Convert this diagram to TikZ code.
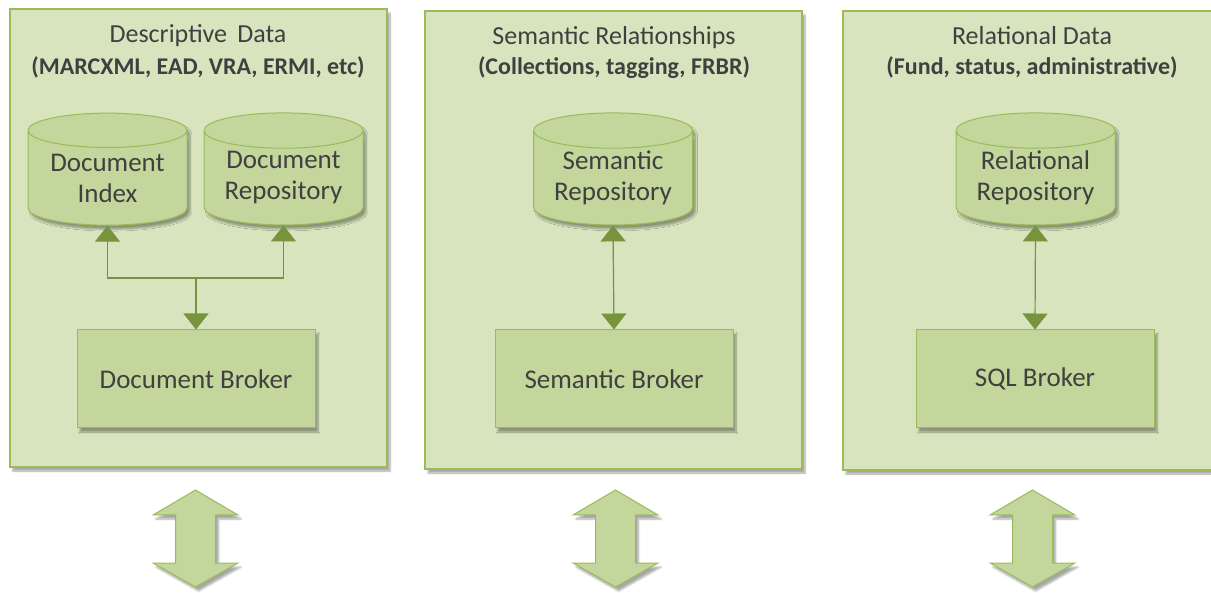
\documentclass[tikz,border=0pt]{standalone}
\usepackage{fontspec}
\setmainfont{Carlito}
\usetikzlibrary{shapes.geometric,arrows.meta,shadows.blur,positioning}
\definecolor{panelfill}{HTML}{D7E4BD}
\definecolor{boxfill}{HTML}{C3D69B}
\definecolor{edge}{HTML}{9BBB59}
\definecolor{conncol}{HTML}{77933C}
\definecolor{txt}{HTML}{404040}
\tikzset{
  panel/.style={draw=edge, line width=1.3pt, fill=panelfill, blur shadow={shadow xshift=3pt, shadow yshift=-4pt, shadow blur steps=6, shadow opacity=35}},
  db/.style={cylinder, shape border rotate=90, aspect=0.3, draw=edge, line width=1pt, fill=boxfill,
    minimum width=159pt, minimum height=112pt, inner sep=0pt, text=txt, font=\fontsize{27}{31}\selectfont, align=center,
    blur shadow={shadow xshift=3pt, shadow yshift=-4pt, shadow blur steps=6, shadow opacity=35}},
  broker/.style={rectangle, draw=edge, line width=1pt, fill=boxfill, minimum width=238pt, minimum height=98pt,
    inner sep=0pt, text=txt, font=\fontsize{27}{31}\selectfont,
    blur shadow={shadow xshift=3pt, shadow yshift=-4pt, shadow blur steps=6, shadow opacity=35}},
  ttl/.style={anchor=base, text=txt, font=\fontsize{26}{30}\selectfont, inner sep=0pt},
  sub/.style={anchor=base, text=txt, font=\bfseries\fontsize{24}{28}\selectfont, inner sep=0pt},
  conn/.style={draw=conncol, line width=1.2pt},
  tip/.style={-{Triangle[width=25pt,length=16pt]}},
  bigarrow/.style={draw=edge, line width=1pt, fill=boxfill, blur shadow={shadow xshift=3pt, shadow yshift=-4pt, shadow blur steps=6, shadow opacity=35}},
}
\newcommand{\dblarrow}[1]{%
  \path[bigarrow] (#1,490) -- (#1+42.5,515) -- (#1+20,515) -- (#1+20,563) -- (#1+42.5,563) -- (#1,587)
    -- (#1-42.5,563) -- (#1-20,563) -- (#1-20,515) -- (#1-42.5,515) -- cycle;}
\begin{document}
\begin{tikzpicture}[x=1pt,y=-1pt]
\useasboundingbox (0,0) rectangle (1211,593);
% panels
\path[panel] (10,9) rectangle (387,467);
\path[panel] (425,11) rectangle (802,469);
\path[panel] (843,11) rectangle (1222,470);
% titles
\node[ttl] (t1) at (198,43) {Descriptive\, Data};
\node[sub] (s1) at (198,75) {(MARCXML, EAD, VRA, ERMI, etc)};
\node[ttl] (t2) at (614,45) {Semantic Relationships};
\node[sub] (s2) at (614,75) {(Collections, tagging, FRBR)};
\node[ttl] (t3) at (1032,45) {Relational Data};
\node[sub] (s3) at (1032,75) {(Fund, status, administrative)};
% cylinders
\node[db] (di) at (107.5,178) {Document\\Index};
\node[db] (dr) at (283.5,178) {Document\\Repository};
\node[db] (sr) at (613,178) {Semantic\\Repository};
\node[db] (rr) at (1035.5,178) {Relational\\Repository};
% brokers
\node[broker] (b1) at (196,379) {Document Broker};
\node[broker] (b2) at (614,379) {Semantic Broker};
\node[broker] (b3) at (1035,379) {SQL Broker};
% connectors
\coordinate (j1) at (b1.north |- 0,278);
\draw[conn,tip] (j1) -- (b1.north);
\draw[conn,tip] (j1) -| (di.south);
\draw[conn,tip] (j1) -| (dr.south);
\draw[conn,{Triangle[width=25pt,length=16pt]}-{Triangle[width=25pt,length=16pt]}] (sr.south) -- (b2.north);
\draw[conn,{Triangle[width=25pt,length=16pt]}-{Triangle[width=25pt,length=16pt]}] (rr.south) -- (b3.north);
% big double arrows
\dblarrow{195.5}
\dblarrow{615.5}
\dblarrow{1032.5}
\end{tikzpicture}
\end{document}
